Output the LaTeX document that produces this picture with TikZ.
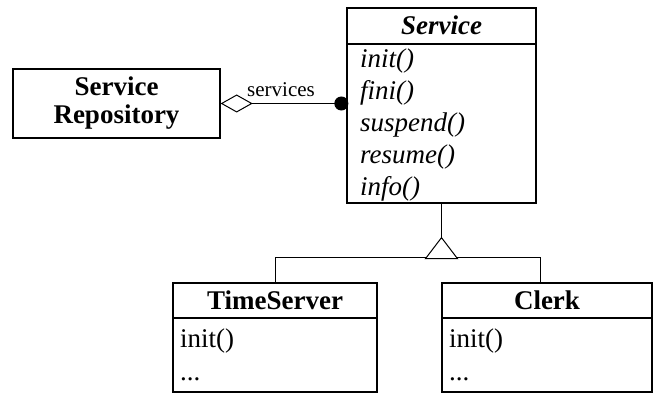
\documentclass[tikz,border=0pt]{standalone}
\usepackage{fontspec}
\setmainfont{Liberation Serif}
\usetikzlibrary{arrows.meta}

\newcommand\umlfont{\fontsize{27}{28}\selectfont}
\newcommand\labelfont{\fontsize{21}{22}\selectfont}

\tikzset{
  classbox/.style={draw, line width=1.3pt, inner sep=0pt, fill=white},
  member/.style={anchor=base west, inner sep=0pt, font=\umlfont},
  classtitle/.style={anchor=base, inner sep=0pt, font=\umlfont\bfseries},
  link/.style={line width=1pt},
}

\begin{document}
\begin{tikzpicture}[x=1pt, y=-1pt]
\useasboundingbox (0,0) rectangle (654,395);

% abstract base class
\node[classbox, minimum width=189pt, minimum height=195pt] (service) at (441.5,105.5) {};
\draw[line width=1.3pt] (347,44) -- (536,44);
\node[classtitle, font=\umlfont\bfseries\itshape] (servicetitle) at (441.5,35) {Service};
\node[member, font=\umlfont\itshape] (m1) at (360,68)  {init()};
\node[member, font=\umlfont\itshape] (m2) at (360,100) {fini()};
\node[member, font=\umlfont\itshape] (m3) at (360,132) {suspend()};
\node[member, font=\umlfont\itshape] (m4) at (360,164) {resume()};
\node[member, font=\umlfont\itshape] (m5) at (360,196) {info()};

% repository
\node[classbox, minimum width=207pt, minimum height=69pt, align=center,
      font=\umlfont\bfseries] (repo) at (116.5,103.5) {Service\\Repository};

% concrete services
\node[classbox, minimum width=204pt, minimum height=109pt] (ts) at (275,337.5) {};
\draw[line width=1.3pt] (173,318) -- (377,318);
\node[classtitle] (tstitle) at (275,310) {TimeServer};
\node[member] (tsinit) at (180,348) {init()};
\node[member] (tsmore) at (180,381) {...};

\node[classbox, minimum width=210pt, minimum height=109pt] (clerk) at (547,337.5) {};
\draw[line width=1.3pt] (442,318) -- (652,318);
\node[classtitle] (clerktitle) at (547,310) {Clerk};
\node[member] (clerkinit) at (449,348) {init()};
\node[member] (clerkmore) at (449,381) {...};

% aggregation
\draw[link, {Diamond[open, length=32pt, width=18pt]}-{Circle[length=14pt]}]
  (repo.east) -- ([xshift=2pt]service.west |- repo.east);
\node[anchor=base, inner sep=0pt, font=\labelfont] (svclabel) at (281,97) {services};

% generalization
\coordinate (apex) at ([yshift=-34pt]service.south);
\draw[link] (service.south) -- (apex);
\draw[link] (ts.north) -- ++(0,-25) -| ([xshift=-7pt]clerk.north);
\draw[link, fill=white] (apex) -- ++(-16,21) -- ++(32,0) -- cycle;
\end{tikzpicture}
\end{document}
